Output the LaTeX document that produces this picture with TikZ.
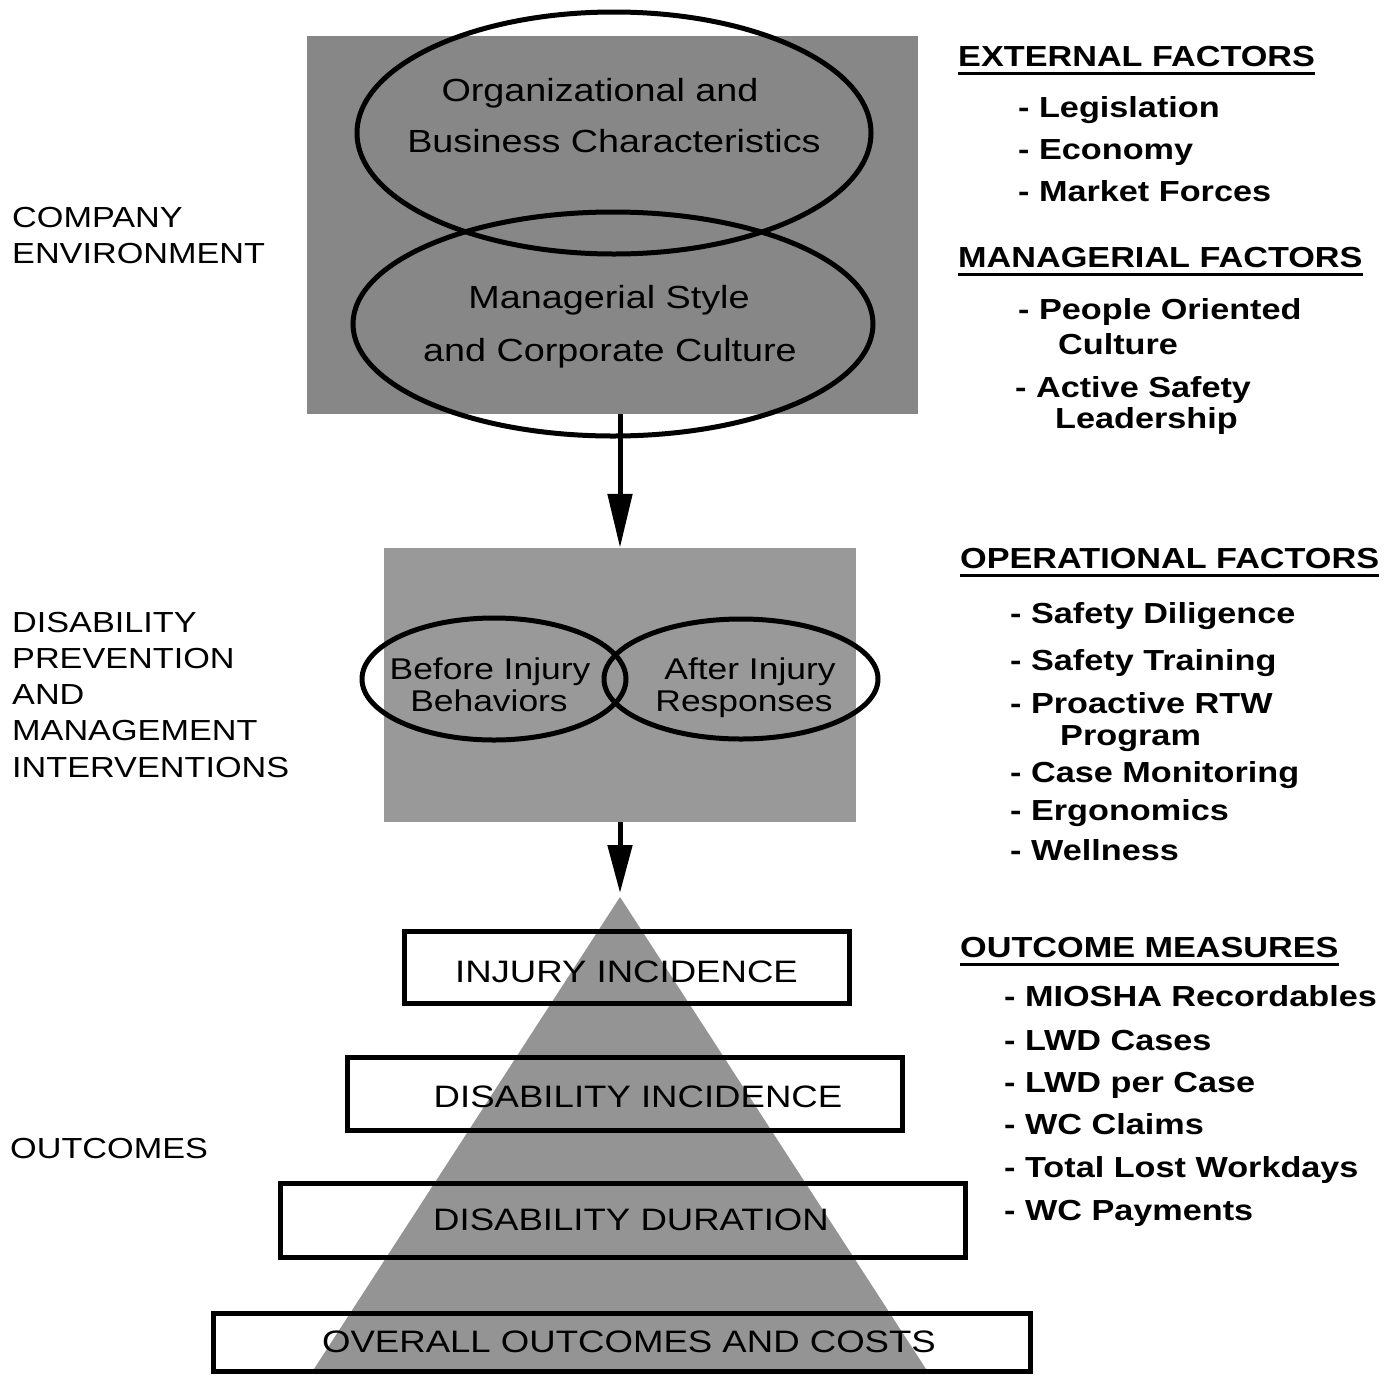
\documentclass[tikz,border=0pt]{standalone}
\usepackage{fontspec}
\setmainfont{Liberation Sans}[FakeStretch=1.18]
\usetikzlibrary{shapes.geometric,arrows.meta}
\newcommand\myfs[1]{\fontsize{#1}{#1}\selectfont}
\begin{document}
\begin{tikzpicture}[x=1pt,y=-1pt,
  graybox/.style={fill=#1, draw=none, inner sep=0pt, rectangle},
  oval/.style={ellipse, draw=black, line width=5pt, inner sep=0pt},
  ovaltext/.style={anchor=base, inner sep=0pt, font=\myfs{32}},
  smalloval/.style={anchor=base, inner sep=0pt, font=\myfs{30}},
  outbox/.style={rectangle, draw=black, line width=5pt, inner sep=0pt, font=\myfs{31}},
  rt/.style={anchor=base west, inner sep=0pt, font=\bfseries\myfs{29}},
  lt/.style={anchor=base west, inner sep=0pt, font=\myfs{29}},
  uline/.style={line width=3pt},
  arr/.style={line width=5pt, -{Triangle[length=#1,width=24pt]}}
]
\useasboundingbox (0,0) rectangle (1398,1374);

% ---------- company environment ----------
\node[graybox=black!47, minimum width=611pt, minimum height=378pt] (topbox) at (612.5,225) {};
\node[oval, minimum width=514pt, minimum height=242pt] (org) at (614,133) {};
\node[oval, minimum width=520pt, minimum height=224pt] (mgr) at (613,324) {};
\node[ovaltext] (orgA) at (600,101) {Organizational and};
\node[ovaltext] (orgB) at (614,152) {Business Characteristics};
\node[ovaltext] (mgrA) at (609,308) {Managerial Style};
\node[ovaltext] (mgrB) at (610,361) {and Corporate Culture};

% ---------- interventions ----------
\node[graybox=black!40, minimum width=472pt, minimum height=274pt] (mid) at (620,685) {};
\node[oval, minimum width=264pt, minimum height=122pt] (before) at (494,679) {};
\node[oval, minimum width=274pt, minimum height=120pt] (after) at (741,679) {};
\node[smalloval] (befA) at (490,679) {Before Injury};
\node[smalloval] (befB) at (489,711) {Behaviors};
\node[smalloval] (aftA) at (750,679) {After Injury};
\node[smalloval] (aftB) at (744,711) {Responses};

% ---------- arrows ----------
\coordinate (a1) at (620,414);
\coordinate (apex) at (620,897);
\draw[arr=54pt] (a1) -- (a1 |- mid.north);
\draw[arr=48pt, shorten >=4pt] (mid.south) -- (apex);

% ---------- pyramid ----------
\fill[black!42] (apex) -- (928,1372) -- (312,1372) -- cycle;
\node[outbox, minimum width=445pt, minimum height=72pt, text height=32pt] (inj) at (626.5,967) {INJURY INCIDENCE};
\node[outbox, minimum width=555pt, minimum height=73pt, text height=29pt] (disinc) at (624.5,1093.5) {\hspace*{27pt}DISABILITY INCIDENCE};
\node[outbox, minimum width=685pt, minimum height=74pt] (disdur) at (622.5,1220) {\hspace*{17pt}DISABILITY DURATION};
\node[outbox, minimum width=817pt, minimum height=58pt] (overall) at (621.5,1342) {\hspace*{15pt}OVERALL OUTCOMES AND COSTS};

% ---------- left labels ----------
\foreach \t/\y [count=\i] in {COMPANY/227, ENVIRONMENT/263, DISABILITY/632, PREVENTION/668, AND/704, MANAGEMENT/740, INTERVENTIONS/777}
  \node[lt] (left\i) at (12,\y) {\t};
\node[lt] (outc) at (10,1158) {OUTCOMES};

% ---------- right headings ----------
\node[rt] (h1) at (958,66) {EXTERNAL FACTORS};
\node[rt] (h2) at (958,267) {MANAGERIAL FACTORS};
\node[rt] (h3) at (960,568) {OPERATIONAL FACTORS};
\node[rt] (h4) at (960,957) {OUTCOME MEASURES};
\foreach \h in {h1,h2,h3,h4}
  \draw[uline] ([yshift=-7pt]\h.base west) -- ([yshift=-7pt]\h.base east);

% ---------- right lists ----------
\foreach \t/\x/\y [count=\i] in {- Legislation/1018/117, - Economy/1018/159, - Market Forces/1018/201,
   - People Oriented/1018/319, Culture/1058/354, - Active Safety/1015/397, Leadership/1055/428}
  \node[rt] (ra\i) at (\x,\y) {\t};
\foreach \t/\x/\y [count=\i] in {- Safety Diligence/1010/623, - Safety Training/1010/670, - Proactive RTW/1010/713,
   Program/1060/745, - Case Monitoring/1010/782, - Ergonomics/1010/820, - Wellness/1010/860}
  \node[rt] (rb\i) at (\x,\y) {\t};
\foreach \t/\y [count=\i] in {- MIOSHA Recordables/1006, - LWD Cases/1050, - LWD per Case/1092,
   - WC Claims/1134, - Total Lost Workdays/1177, - WC Payments/1220}
  \node[rt] (rc\i) at (1004,\y) {\t};
\end{tikzpicture}
\end{document}
